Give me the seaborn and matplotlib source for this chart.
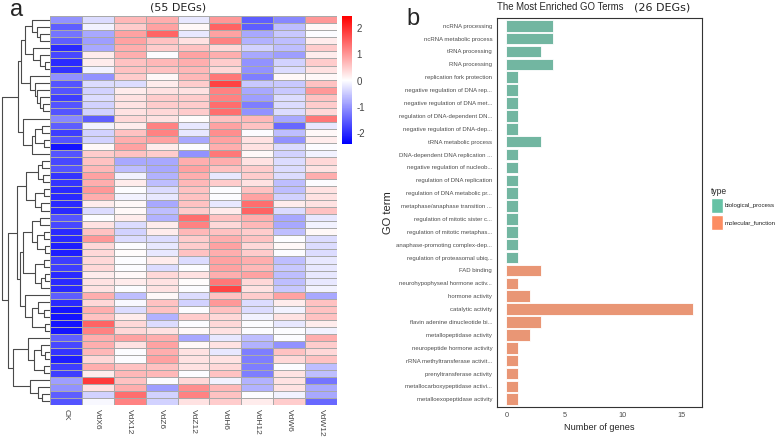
import numpy as np
import pandas as pd
import matplotlib
matplotlib.use('Agg')
import matplotlib.pyplot as plt
from matplotlib import font_manager
from matplotlib.colors import LinearSegmentedColormap
from matplotlib.patches import Patch
import seaborn as sns

# ---- panel a: heatmap values (rows in dendrogram order, top to bottom) ----
samples = ['CK', 'VdX6', 'VdX12', 'VdZ6', 'VdZ12', 'VdH6', 'VdH12', 'VdW6', 'VdW12']

ck = [-1.0, -1.5, -1.3, -1.5, -2.0, -1.7, -2.0, -1.9, -1.0, -1.6, -1.6, -1.8, -1.6, -1.6,
      -1.1, -1.5, -1.8, -1.6, -2.2, -1.6, -1.7, -1.6, -1.9, -1.9, -2.0, -2.0, -2.0, -2.0,
      -1.6, -1.7, -2.0, -2.0, -2.1, -2.1, -1.8, -1.8, -2.0, -2.0, -2.0, -1.5, -2.0, -2.2,
      -2.2, -2.2, -2.2, -1.5, -1.7, -1.9, -2.1, -1.8, -1.8, -0.9, -1.0, -1.5, -1.6]
vdx6 = [-0.3, -0.1, -0.8, -0.9, -0.8, 0.2, 0.2, -0.1, -1.0, -0.3, -0.4, -0.3, -0.4, -0.4,
        -1.5, -0.1, -0.4, -0.4, 0.1, 0.5, 0.6, 0.7, 0.9, 0.8, 1.0, 0.8, 0.2, -0.3,
        0.0, 0.3, 0.6, 1.0, 0.4, 0.4, 0.4, 0.4, 0.2, 0.3, 0.3, 0.8, 0.4, 0.8,
        0.6, 1.5, 1.2, 0.8, 0.8, 0.7, 0.4, 0.8, 0.2, 1.9, 0.3, -0.4, -0.05]
vdx12 = [0.7, 0.5, 0.9, 0.9, 0.8, 0.8, 0.6, 0.6, 0.5, -0.3, 0.2, 0.3, 0.3, 0.3,
         0.4, 0.2, 0.6, 0.8, 0.9, 0.6, -0.8, -0.6, -0.1, 0.2, 0.0, -0.1, 0.1, 0.1,
         0.2, -0.3, -0.4, -0.3, 0.0, 0.05, 0.0, 0.0, 0.1, 0.2, 0.0, -0.6, -0.05, -0.3,
         0.2, 0.4, 0.4, 0.9, 0.3, 0.0, 0.0, 0.6, 0.7, 0.6, 0.8, 1.4, 1.2]
vdz6 = [0.8, 0.9, 1.5, 0.6, 0.5, 0.0, 0.7, 0.6, 0.1, 0.2, 0.3, 0.5, 0.5, 0.4,
        0.3, 1.2, 1.2, 0.9, 0.2, 0.5, -0.8, -0.8, -0.7, -0.6, -0.3, -0.2, -0.8, -0.6,
        -0.7, 0.2, 0.2, -0.3, -0.2, -0.2, 0.2, -0.3, 0.4, 0.3, 0.3, 0.1, 0.6, 0.6,
        -0.7, -0.3, 0.3, 0.8, 0.9, 0.8, 0.9, 0.6, 0.7, 0.0, -0.9, -0.4, -0.4]
vdz12 = [-0.2, 0.1, -0.2, 0.3, 0.6, 0.9, 0.8, 0.7, 0.7, 0.5, 0.3, 0.5, 0.5, 0.5,
         0.05, -0.2, -0.2, -0.8, 0.0, -1.0, 0.8, 0.9, 0.8, 0.7, 0.6, 0.6, 0.6, 0.5,
         1.4, 1.2, 0.7, 0.5, 0.5, 0.6, -0.3, 0.0, 0.3, 0.05, 0.0, -0.3, -0.4, 0.0,
         0.5, 0.0, 0.1, -0.8, 0.1, 0.3, 0.3, 0.3, 0.0, 0.4, 1.1, 1.2, 0.3]
vdh6 = [1.0, 1.5, 0.9, 1.2, 0.4, 0.8, 0.5, 0.4, 1.3, 1.8, 1.2, 1.2, 1.4, 1.4,
        0.6, 0.9, 1.1, 0.9, 0.8, 1.3, 0.8, 0.6, -0.2, 0.5, 0.0, 0.0, -0.2, 0.2,
        0.6, 0.4, 0.6, 0.8, 0.9, 0.8, 0.9, 0.9, 0.8, 1.3, 1.8, 0.6, 1.0, 0.6,
        0.4, 0.4, 0.3, -0.2, 0.3, -0.2, 0.3, 0.4, 0.6, -0.1, 0.7, 0.6, 0.5]
vdh12 = [-1.5, -1.5, -0.8, -0.7, -0.4, -0.8, -1.0, -1.0, -1.2, -0.5, -0.8, -0.9, -1.2, -1.0,
         0.7, 0.6, 0.0, 0.3, 0.3, 0.1, 0.3, 0.5, 0.5, 0.3, 0.6, 0.9, 1.4, 1.5,
         0.8, 0.7, 0.5, 0.6, 0.4, 0.5, 0.8, 0.7, 0.9, 0.4, 0.3, 0.5, -0.3, -0.3,
         -0.1, 0.0, 0.0, -0.6, -0.7, -1.2, -1.2, -1.2, -1.2, -0.7, -0.7, 0.0, 0.2]
vdw6 = [-1.1, -0.6, -0.5, -0.6, -0.6, -0.9, -0.4, -0.3, 0.1, -0.5, -0.5, -0.3, -0.3, -0.3,
        -0.8, -1.4, -0.6, -1.0, -0.3, -0.4, -0.3, -0.3, -0.3, -0.6, -0.6, -0.4, 0.2, -0.3,
        -0.8, -0.8, -0.6, 0.0, 0.1, 0.0, -0.6, -0.5, -0.6, -0.6, -0.5, 0.9, 0.2, -0.1,
        0.3, -0.2, 0.0, 0.0, -1.0, 0.6, 0.4, 0.0, 0.3, 0.3, 0.3, -0.1, 0.5]
vdw12 = [1.0, 0.1, 0.0, 0.2, 0.5, 0.2, 0.5, 0.3, 0.1, 0.6, 1.0, 0.6, 0.5, 0.4,
         1.3, -0.2, 0.1, 0.2, 0.0, -0.1, 0.4, 0.3, 0.8, 0.0, 0.3, 0.3, 0.3, 0.6,
         -0.2, -0.1, 0.1, -0.3, -0.3, -0.3, -0.2, -0.2, -0.2, -0.2, -0.1, -0.8, 0.6, 0.6,
         0.6, 0.2, -0.1, 0.8, 0.5, 0.4, 0.6, -0.6, -0.6, -1.3, -0.8, -0.8, -1.4]

# row dendrogram: (left, right, height); ints are row indices
clu_a1 = ((0, (1, (2, 3, 10), 13), 18), (4, (5, (6, 7, 5), 10), 17), 25)
clu_a2 = (8, (9, (10, (11, (12, 13, 7), 10), 13), 15), 20)
clu_c = (14, (((15, 16, 8), (17, 18, 6), 15), 19, 18), 27)
clu_a = ((clu_a1, clu_a2, 29), clu_c, 32)
clu_d = (((20, 21, 8), (22, 23, 7), 12), ((24, 25, 6), (26, 27, 9), 15), 24)
clu_e = (((28, 29, 10), ((30, 31, 6), (32, 33, 5), 13), 18),
         ((34, 35, 6), ((36, 37, 5), 38, 9), 15), 27)
clu_f = (39, ((40, (41, 42, 6), 12), (43, 44, 5), 18), 25)
clu_g = (45, ((46, (47, 48, 5), 9), (49, 50, 6), 16), 22)
clu_h = (51, (52, (53, 54, 8), 12), 20)
clu_b = ((clu_d, (clu_e, clu_f, 30), 33), (clu_g, clu_h, 37), 42)
row_tree = (clu_a, clu_b, 48)

# ---- panel b: GO terms ----
go_terms = ['ncRNA processing', 'ncRNA metabolic process', 'tRNA processing', 'RNA processing',
            'replication fork protection', 'negative regulation of DNA rep...',
            'negative regulation of DNA met...', 'regulation of DNA-dependent DN...',
            'negative regulation of DNA-dep...', 'tRNA metabolic process',
            'DNA-dependent DNA replication ...', 'negative regulation of nucleob...',
            'regulation of DNA replication', 'regulation of DNA metabolic pr...',
            'metaphase/anaphase transition ...', 'regulation of mitotic sister c...',
            'regulation of mitotic metaphas...', 'anaphase-promoting complex-dep...',
            'regulation of proteasomal ubiq...',
            'FAD binding', 'neurohypophyseal hormone activ...', 'hormone activity',
            'catalytic activity', 'flavin adenine dinucleotide bi...', 'metallopeptidase activity',
            'neuropeptide hormone activity', 'rRNA methyltransferase activit...',
            'prenyltransferase activity', 'metallocarboxypeptidase activi...',
            'metalloexopeptidase activity']
go_counts = [4, 4, 3, 4, 1, 1, 1, 1, 1, 3, 1, 1, 1, 1, 1, 1, 1, 1, 1,
             3, 1, 2, 16, 3, 2, 1, 1, 1, 1, 1]
go_types = ['biological_process'] * 19 + ['molecular_function'] * 11
type_colors = {'biological_process': '#66C2A5', 'molecular_function': '#FC8D62'}

# ---- figure ----
sns.set_style('white')
names = {f.name for f in font_manager.fontManager.ttflist}
narrow = 'Liberation Sans Narrow' if 'Liberation Sans Narrow' in names else 'Liberation Sans'
nscale = 1.0 if narrow == 'Liberation Sans Narrow' else 0.82
plt.rcParams['font.family'] = ['Liberation Sans', 'DejaVu Sans']
plt.rcParams['axes.unicode_minus'] = False

W, H = 778, 437
fig = plt.figure(figsize=(W / 100, H / 100), dpi=100)


def px_axes(x0, y0, x1, y1):
    return fig.add_axes([x0 / W, 1 - y1 / H, (x1 - x0) / W, (y1 - y0) / H])


ax_den = px_axes(0, 16, 50, 405)
ax_hm = px_axes(50, 16, 337, 405)
ax_cb = px_axes(342, 16, 352, 144)
ax_bar = px_axes(497, 18, 702, 407)

hm = pd.DataFrame({'CK': ck, 'VdX6': vdx6, 'VdX12': vdx12, 'VdZ6': vdz6, 'VdZ12': vdz12,
                   'VdH6': vdh6, 'VdH12': vdh12, 'VdW6': vdw6, 'VdW12': vdw12})[samples]
cmap = LinearSegmentedColormap.from_list('bwr_ph', ['#0000FF', '#FFFFFF', '#FF0000'])
sns.heatmap(hm, ax=ax_hm, cmap=cmap, vmin=-2.4, vmax=2.45, linewidths=0.6,
            linecolor='#a9a9a9', cbar_ax=ax_cb, yticklabels=False)
ax_hm.set_xticklabels(samples, rotation=270, fontsize=6, color='#444444')
ax_hm.tick_params(axis='x', length=0, pad=3)
ax_hm.set_ylabel('')

cbar = ax_hm.collections[0].colorbar
cbar.outline.set_visible(False)
cbar.set_ticks([-2, -1, 0, 1, 2])
ax_cb.tick_params(length=0, labelsize=7, labelcolor='#444444', pad=3)


def draw_tree(node, ax):
    if isinstance(node, int):
        return node + 0.5, 0.0
    left, right, h = node
    y1, h1 = draw_tree(left, ax)
    y2, h2 = draw_tree(right, ax)
    ax.plot([h1, h, h, h2], [y1, y1, y2, y2], color='#4a4a4a', lw=0.8,
            solid_capstyle='butt')
    return (y1 + y2) / 2, h


draw_tree(row_tree, ax_den)
ax_den.set_xlim(50, 0)
ax_den.set_ylim(len(ck), 0)
ax_den.axis('off')

# bar chart
go = pd.DataFrame({'term': go_terms, 'count': go_counts, 'type': go_types})
sns.barplot(data=go, y='term', x='count', hue='type', palette=type_colors, orient='h',
            dodge=False, width=0.9, edgecolor='white', linewidth=0.6, legend=False,
            ax=ax_bar)
ax_bar.set_xlim(-0.8, 16.8)
ax_bar.set_ylim(len(go_terms) - 0.4, -0.6)
ax_bar.set_xticks([0, 5, 10, 15])
ax_bar.tick_params(axis='both', length=2, width=0.6, color='#333333', pad=1.5)
for lab in ax_bar.get_yticklabels():
    lab.set_fontfamily(narrow)
    lab.set_fontsize(5.3 * nscale)
    lab.set_color('#4d4d4d')
for lab in ax_bar.get_xticklabels():
    lab.set_fontfamily(narrow)
    lab.set_fontsize(6.5 * nscale)
    lab.set_color('#4d4d4d')
for s in ax_bar.spines.values():
    s.set_visible(True)
    s.set_color('#333333')
    s.set_linewidth(0.8)
ax_bar.set_ylabel('GO term', fontsize=8, labelpad=2)
ax_bar.set_xlabel('Number of genes', fontsize=8 * nscale, family=narrow, labelpad=3)

handles = [Patch(facecolor=type_colors[t], edgecolor='white', label=t)
           for t in ['biological_process', 'molecular_function']]
leg = ax_bar.legend(handles=handles, title='type', loc='upper left',
                    bbox_to_anchor=(711 / W, 1 - 187 / H), bbox_transform=fig.transFigure,
                    frameon=False, prop={'family': narrow, 'size': 4.4},
                    handlelength=1.9, handleheight=3.4, handletextpad=0.35,
                    labelspacing=0.3, borderaxespad=0, borderpad=0, alignment='left')
for t in leg.get_texts():
    t.set_color('#222222')
leg.get_title().set_fontfamily(narrow)
leg.get_title().set_fontsize(7.5 * nscale)

# panel letters and titles
fig.text(10 / W, 1 - 16 / H, 'a', fontsize=17, va='baseline')
fig.text(406 / W, 1 - 25 / H, 'b', fontsize=17, va='baseline')
fig.text(178 / W, 1 - 7 / H, '(55 DEGs)', fontsize=8, ha='center', va='center',
         family='DejaVu Sans', color='#222222')
fig.text(497 / W, 1 - 7 / H, 'The Most Enriched GO Terms', fontsize=8.5 * nscale,
         family=narrow, ha='left', va='center')
fig.text(662 / W, 1 - 7 / H, '(26 DEGs)', fontsize=8, ha='center', va='center',
         family='DejaVu Sans', color='#222222')

fig.savefig('out.png', dpi=100)
